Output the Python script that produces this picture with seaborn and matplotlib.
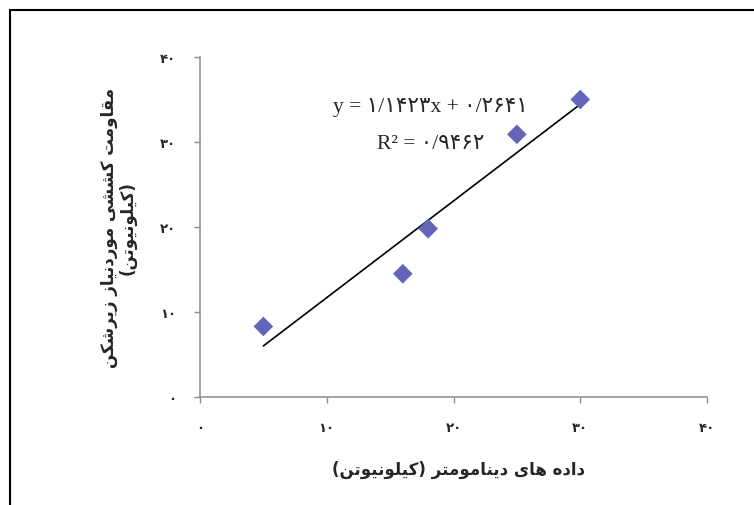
import numpy as np
import pandas as pd
import seaborn as sns
import matplotlib.pyplot as plt
from matplotlib.patches import Rectangle

# data
dyno = [5, 16, 18, 25, 30]             # dynamometer readings (kN)
draft = [8.3, 14.5, 19.8, 30.9, 35.0]  # required draft force of subsoiler (kN)
tick_vals = [0, 10, 20, 30, 40]
tick_labels = ['۰', '۱۰', '۲۰', '۳۰', '۴۰']
eq_text = 'y = ۱/۱۴۲۳x + ۰/۲۶۴۱'
r2_text = 'R² = ۰/۹۴۶۲'
xlabel_text = 'داده های دینامومتر (کیلونیوتن)'
ylabel_lines = ['مقاومت کششی موردنیاز زیرشکن', '(کیلونیوتن)']

# matplotlib has no arabic shaping, so do it by hand with presentation forms
# (isolated, final, initial, medial)
FORMS = {
    'ا': ('\uFE8D', '\uFE8E', None, None),
    'د': ('\uFEA9', '\uFEAA', None, None),
    'ر': ('\uFEAD', '\uFEAE', None, None),
    'ز': ('\uFEAF', '\uFEB0', None, None),
    'و': ('\uFEED', '\uFEEE', None, None),
    'ت': ('\uFE95', '\uFE96', '\uFE97', '\uFE98'),
    'ش': ('\uFEB5', '\uFEB6', '\uFEB7', '\uFEB8'),
    'ق': ('\uFED5', '\uFED6', '\uFED7', '\uFED8'),
    'ل': ('\uFEDD', '\uFEDE', '\uFEDF', '\uFEE0'),
    'م': ('\uFEE1', '\uFEE2', '\uFEE3', '\uFEE4'),
    'ن': ('\uFEE5', '\uFEE6', '\uFEE7', '\uFEE8'),
    'ه': ('\uFEE9', '\uFEEA', '\uFEEB', '\uFEEC'),
    'ک': ('\uFB8E', '\uFB8F', '\uFB90', '\uFB91'),
    'ی': ('\uFBFC', '\uFBFD', '\uFBFE', '\uFBFF'),
}

def shape(text):
    out = []
    for i, ch in enumerate(text):
        if ch not in FORMS:
            out.append(ch)
            continue
        prev = text[i-1] if i > 0 else ''
        nxt = text[i+1] if i+1 < len(text) else ''
        join_prev = prev in FORMS and FORMS[prev][2] is not None
        join_next = FORMS[ch][2] is not None and nxt in FORMS
        iso, fin, ini, med = FORMS[ch]
        if join_prev and join_next:
            out.append(med)
        elif join_prev:
            out.append(fin)
        elif join_next:
            out.append(ini)
        else:
            out.append(iso)
    mirror = {'(': ')', ')': '('}
    return ''.join(mirror.get(c, c) for c in reversed(out))

df = pd.DataFrame({'dyno': dyno, 'draft': draft})

sns.set_style('white')
plt.rcParams['font.family'] = ['DejaVu Sans']

fig = plt.figure(figsize=(7.54, 5.06), dpi=100)
ax = fig.add_axes([200/754, 1-398/506, 507/754, 340/506])

sns.regplot(data=df, x='dyno', y='draft', scatter=False, ci=None, ax=ax,
            line_kws={'color': 'black', 'lw': 1.2})
sns.scatterplot(data=df, x='dyno', y='draft', marker='D', s=100, color='#6464B8',
                edgecolor='none', ax=ax, zorder=3)

ax.set_xlim(0, 40)
ax.set_ylim(0, 40)
ax.set_xticks(tick_vals)
ax.set_xticklabels(tick_labels, fontsize=9.5, fontweight='bold')
ax.set_yticks(tick_vals)
ax.set_yticklabels(tick_labels, fontsize=9.5, fontweight='bold')
ax.tick_params(axis='x', direction='out', length=4, width=1, color='#8C8C8C', pad=13, bottom=True)
ax.tick_params(axis='y', direction='out', length=4, width=1, color='#8C8C8C', pad=13, left=True)

sns.despine(ax=ax)
for side in ['left', 'bottom']:
    ax.spines[side].set_color('#8C8C8C')
    ax.spines[side].set_linewidth(1.1)

ax.set_xlabel(shape(xlabel_text), fontsize=12, fontweight='bold')
ax.xaxis.set_label_coords(0.51, -0.185)
ax.set_ylabel('\n'.join(shape(s) for s in ylabel_lines), fontsize=12,
              fontweight='bold', multialignment='center', linespacing=1.05)
ax.yaxis.set_label_coords(-0.125, 0.5)

ax.text(0.455, 0.855, eq_text, transform=ax.transAxes, ha='center', va='center',
        fontsize=15.5, family=['Liberation Serif', 'DejaVu Sans'])
ax.text(0.455, 0.745, r2_text, transform=ax.transAxes, ha='center', va='center',
        fontsize=15.5, family=['Liberation Serif', 'DejaVu Sans'])

# chart area border, only top and left show in the crop
fig.add_artist(Rectangle((10/754, -0.1), 1.2, 1.1 - 11/506, transform=fig.transFigure,
                         fill=False, edgecolor='black', lw=1.5))

fig.savefig('out.png', dpi=100)
